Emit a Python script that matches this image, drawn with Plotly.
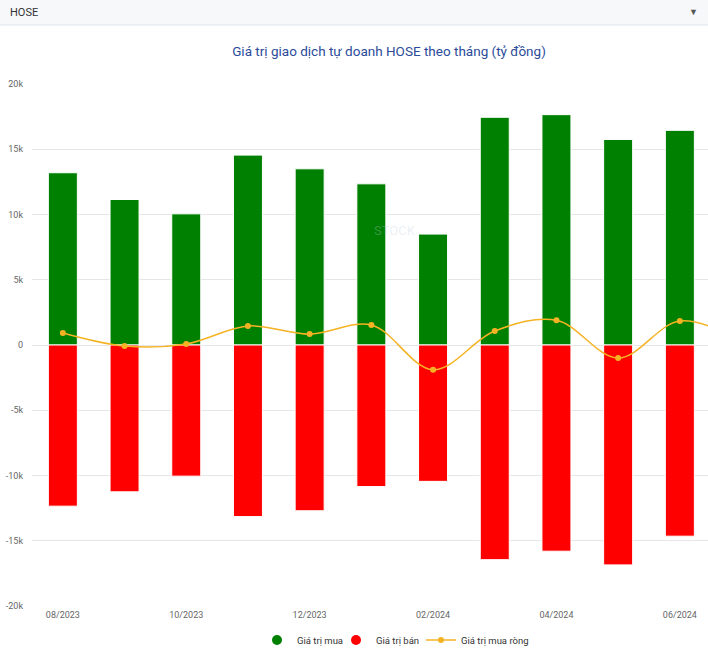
import plotly.graph_objects as go

months = ["08/2023", "09/2023", "10/2023", "11/2023", "12/2023", "01/2024",
          "02/2024", "03/2024", "04/2024", "05/2024", "06/2024"]
buy = [13200, 11150, 10050, 14550, 13500, 12350, 8500, 17450, 17650, 15750, 16450]
sell = [-12350, -11250, -10050, -13150, -12700, -10850, -10450, -16450, -15800, -16850, -14650]
net_months = months + ["07/2024"]
net = [920, -80, 80, 1460, 840, 1530, -1900, 1070, 1900, -1000, 1840, 300]

ytick_vals = [-20000, -15000, -10000, -5000, 0, 5000, 10000, 15000, 20000]
ytick_text = ["-20k", "-15k", "-10k", "-5k", "0", "5k", "10k", "15k", "20k"]
xtick_labels = ["08/2023", "10/2023", "12/2023", "02/2024", "04/2024", "06/2024"]

GREEN = "#008000"
RED = "#ff0000"
GOLD = "#f5b324"

idx = list(range(len(months)))
net_idx = list(range(len(net_months)))
xtick_vals = [months.index(m) for m in xtick_labels]

W, H = 708, 654
ML, MR, MT, MB = 32, 0, 84, 48
pw, ph = W - ML - MR, H - MT - MB

def px(x):
    return (x - ML) / pw

def py(y):
    return (H - MB - y) / ph

fig = go.Figure()
fig.add_trace(go.Bar(x=idx, y=buy, width=0.47, marker=dict(color=GREEN, line=dict(color="white", width=1)),
                     name="Giá trị mua", showlegend=False, hovertext=months))
fig.add_trace(go.Bar(x=idx, y=sell, width=0.47, marker=dict(color=RED, line=dict(color="white", width=1)),
                     name="Giá trị bán", showlegend=False, hovertext=months))
fig.add_trace(go.Scatter(x=net_idx, y=net, mode="lines+markers", name="Giá trị mua ròng",
                         line=dict(color=GOLD, width=1.5, shape="spline", smoothing=1.0),
                         marker=dict(color=GOLD, size=6), showlegend=False, hovertext=net_months))
# legend entries
fig.add_trace(go.Scatter(x=[None], y=[None], mode="markers", name="Giá trị mua", legend="legend",
                         marker=dict(color=GREEN, size=10, symbol="circle")))
fig.add_trace(go.Scatter(x=[None], y=[None], mode="markers", name="Giá trị bán", legend="legend2",
                         marker=dict(color=RED, size=10, symbol="circle")))
fig.add_trace(go.Scatter(x=[None], y=[None], mode="lines+markers", name="Giá trị mua ròng", legend="legend3",
                         line=dict(color=GOLD, width=1.5), marker=dict(color=GOLD, size=6)))

def leg(xpix):
    return dict(orientation="h", x=xpix / W, xref="container", xanchor="left",
                y=1 - 640 / H, yref="container", yanchor="middle",
                font=dict(size=9.5, color="#333"), itemwidth=30,
                bgcolor="rgba(0,0,0,0)")

fig.update_layout(
    width=W, height=H,
    margin=dict(l=ML, r=MR, t=MT, b=MB),
    barmode="relative",
    plot_bgcolor="white", paper_bgcolor="white",
    font=dict(family="Roboto, Arial, sans-serif", size=10, color="#333"),
    title=dict(text="Giá trị giao dịch tự doanh HOSE theo tháng (tỷ đồng)",
               x=389 / W, xref="container", xanchor="center",
               y=1 - 51 / H, yref="container", yanchor="middle",
               font=dict(size=13.5, color="#2b4c9b", family="Roboto, Arial, sans-serif")),
    xaxis=dict(range=[-0.5, (W - ML) / 61.7 - 0.5], tickvals=xtick_vals, ticktext=xtick_labels,
               showgrid=False, zeroline=False, showline=False, ticks="",
               tickfont=dict(size=9, color="#666"), ticklabelstandoff=2),
    yaxis=dict(range=[-20000, 20000], tickvals=ytick_vals, ticktext=ytick_text,
               showgrid=True, gridcolor="#e6e6e6", gridwidth=1, zeroline=True,
               zerolinecolor="#e6e6e6", zerolinewidth=1, showline=False, ticks="",
               tickfont=dict(size=9, color="#666"), ticklabelstandoff=8),
    legend=leg(257),
    legend2=leg(336),
    legend3=leg(421),
    shapes=[
        dict(type="rect", xref="paper", yref="paper", x0=px(0), x1=px(W), y0=py(25), y1=py(0),
             fillcolor="#f6f8fa", line=dict(width=0), layer="below"),
        dict(type="line", xref="paper", yref="paper", x0=px(0), x1=px(W), y0=py(25), y1=py(25),
             line=dict(color="#dfe3e8", width=1)),
    ],
    annotations=[
        dict(text="HOSE", xref="paper", yref="paper", x=px(8), y=py(13), xanchor="left",
             yanchor="middle", showarrow=False, font=dict(size=11, color="#333")),
        dict(text="▼", xref="paper", yref="paper", x=px(693), y=py(12), xanchor="center",
             yanchor="middle", showarrow=False, font=dict(size=9, color="#555")),
        dict(text="STOCK", xref="paper", yref="paper", x=px(372), y=py(230), xanchor="left",
             yanchor="middle", showarrow=False, font=dict(size=13, color="rgba(190,200,215,0.3)")),
    ],
)

fig.write_html("out.html", config={"displayModeBar": False},
               post_script="document.body.style.margin='0';document.body.style.overflow='hidden';")
